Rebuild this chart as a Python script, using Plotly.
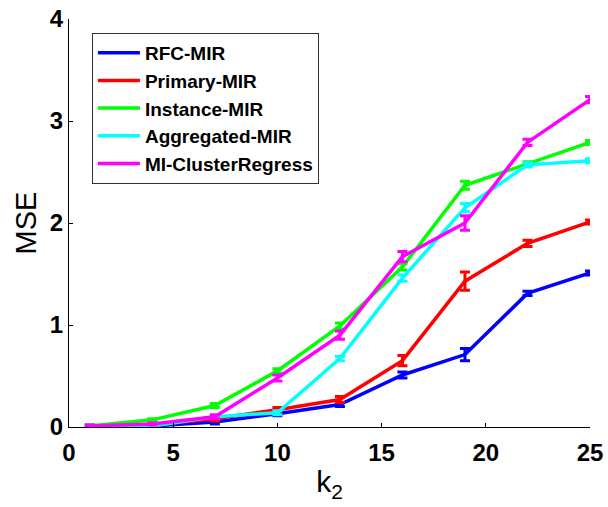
import plotly.graph_objects as go

k2 = [1, 4, 7, 10, 13, 16, 19, 22, 25]

series_names = ["RFC-MIR", "Primary-MIR", "Instance-MIR", "Aggregated-MIR", "MI-ClusterRegress"]
series_colors = ["#0000FF", "#FF0000", "#00FF00", "#00FFFF", "#FF00FF"]

rfc_mir = [0.01, 0.01, 0.05, 0.13, 0.22, 0.51, 0.71, 1.31, 1.51]
primary_mir = [0.01, 0.02, 0.08, 0.17, 0.27, 0.65, 1.43, 1.80, 2.01]
instance_mir = [0.01, 0.07, 0.21, 0.55, 0.99, 1.57, 2.37, 2.58, 2.79]
aggregated_mir = [0.01, 0.01, 0.10, 0.14, 0.67, 1.46, 2.15, 2.57, 2.61]
mi_cluster = [0.01, 0.03, 0.10, 0.48, 0.90, 1.67, 2.00, 2.79, 3.21]

rfc_err = [0.01, 0.01, 0.02, 0.02, 0.02, 0.03, 0.06, 0.02, 0.02]
primary_err = [0.01, 0.01, 0.02, 0.02, 0.03, 0.05, 0.09, 0.03, 0.02]
instance_err = [0.01, 0.01, 0.02, 0.02, 0.03, 0.03, 0.04, 0.02, 0.02]
aggregated_err = [0.01, 0.01, 0.01, 0.02, 0.02, 0.03, 0.04, 0.02, 0.02]
mi_cluster_err = [0.01, 0.01, 0.02, 0.03, 0.04, 0.05, 0.07, 0.03, 0.03]

values = [rfc_mir, primary_mir, instance_mir, aggregated_mir, mi_cluster]
errors = [rfc_err, primary_err, instance_err, aggregated_err, mi_cluster_err]

FONT = "Arial, Liberation Sans, sans-serif"

fig = go.Figure()
for name, color, y, e in zip(series_names, series_colors, values, errors):
    fig.add_trace(go.Scatter(
        x=k2, y=y, name=name, mode="lines",
        line=dict(color=color, width=3.5),
        error_y=dict(type="data", array=e, visible=True, color=color,
                     thickness=3, width=5),
    ))

fig.update_layout(
    width=608, height=507,
    margin=dict(l=69, r=18, t=19, b=80, autoexpand=False),
    paper_bgcolor="white", plot_bgcolor="white",
    showlegend=True,
    legend=dict(
        x=0.044, y=0.966, xanchor="left", yanchor="top",
        bgcolor="white", bordercolor="#333333", borderwidth=1,
        font=dict(family=FONT, size=19, color="black", weight="bold"),
        tracegroupgap=0, itemwidth=42,
    ),
    xaxis=dict(
        range=[0, 25], tickvals=[0, 5, 10, 15, 20, 25],
        showgrid=False, zeroline=False, automargin=False,
        showline=True, linecolor="black", linewidth=1,
        ticks="inside", ticklen=4, tickcolor="black",
        tickfont=dict(family=FONT, size=24, color="black", weight="bold"),
        ticklabelstandoff=4, ticklabeloverflow="allow",
        title=dict(text="k<sub>2</sub>", font=dict(family=FONT, size=30, color="black"),
                   standoff=6),
    ),
    yaxis=dict(
        range=[0, 4], tickvals=[0, 1, 2, 3, 4],
        showgrid=False, zeroline=False, automargin=False,
        showline=True, linecolor="black", linewidth=1,
        ticks="inside", ticklen=4, tickcolor="black",
        tickfont=dict(family=FONT, size=24, color="black", weight="bold"),
        ticklabeloverflow="allow",
        title=dict(text="MSE", font=dict(family=FONT, size=29, color="black"),
                   standoff=4),
    ),
)

fig.write_html("out.html", config={"displayModeBar": False},
               post_script="document.body.style.margin='0';")
